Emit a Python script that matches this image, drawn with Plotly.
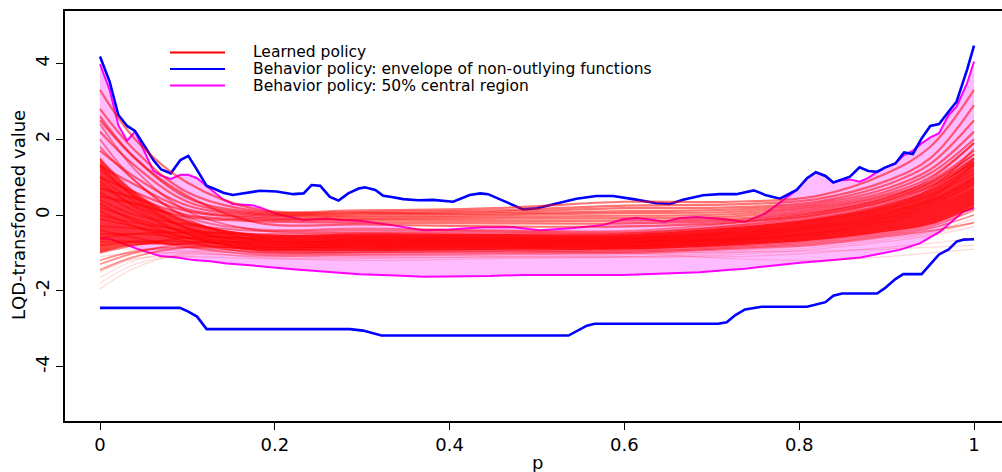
import plotly.graph_objects as go

# ---------------- data ----------------
# Behavior policy: envelope of non-outlying functions (upper border)
BU_P = [0, 0.011, 0.021, 0.031, 0.04, 0.05, 0.061, 0.07, 0.081, 0.092, 0.101, 0.11, 0.122, 0.13,
        0.141, 0.152, 0.164, 0.183, 0.202, 0.221, 0.233, 0.242, 0.252, 0.263, 0.273, 0.284, 0.296,
        0.303, 0.315, 0.324, 0.332, 0.347, 0.364, 0.381, 0.404, 0.423, 0.435, 0.444, 0.461, 0.484,
        0.5, 0.523, 0.545, 0.568, 0.587, 0.61, 0.637, 0.652, 0.667, 0.69, 0.709, 0.728, 0.748, 0.761,
        0.778, 0.797, 0.809, 0.819, 0.83, 0.839, 0.849, 0.858, 0.869, 0.879, 0.889, 0.898, 0.91,
        0.92, 0.93, 0.94, 0.95, 0.96, 0.971, 0.98, 0.992, 1.0]
BU_V = [4.18, 3.52, 2.64, 2.35, 2.22, 1.85, 1.45, 1.2, 1.1, 1.45, 1.56, 1.23, 0.77, 0.7, 0.59,
        0.53, 0.57, 0.64, 0.62, 0.55, 0.57, 0.79, 0.77, 0.48, 0.38, 0.57, 0.7, 0.73, 0.66, 0.51,
        0.48, 0.42, 0.39, 0.40, 0.35, 0.53, 0.57, 0.55, 0.38, 0.15, 0.18, 0.31, 0.43, 0.50, 0.50,
        0.42, 0.31, 0.29, 0.40, 0.52, 0.55, 0.55, 0.65, 0.53, 0.43, 0.66, 0.97, 1.13, 1.03, 0.86,
        0.94, 1.01, 1.26, 1.16, 1.14, 1.25, 1.36, 1.65, 1.61, 2.02, 2.35, 2.40, 2.73, 2.99, 3.83, 4.47]

# envelope lower border
BL_P = [0, 0.0915, 0.101, 0.111, 0.122, 0.286, 0.301, 0.322, 0.536, 0.549, 0.557, 0.566, 0.707,
        0.717, 0.727, 0.738, 0.748, 0.757, 0.809, 0.818, 0.83, 0.839, 0.849, 0.889, 0.898, 0.91,
        0.919, 0.94, 0.95, 0.96, 0.971, 0.98, 0.988, 1.0]
BL_V = [-2.45, -2.45, -2.55, -2.68, -3.01, -3.01, -3.05, -3.18, -3.18, -3.03, -2.92, -2.87, -2.87,
        -2.83, -2.64, -2.49, -2.46, -2.42, -2.42, -2.37, -2.30, -2.13, -2.07, -2.07, -1.93, -1.69,
        -1.56, -1.56, -1.30, -1.04, -0.91, -0.70, -0.65, -0.64]

# Behavior policy: 50% central region (upper border)
MU_P = [0, 0.011, 0.021, 0.031, 0.04, 0.05, 0.061, 0.07, 0.081, 0.092, 0.101, 0.111, 0.122, 0.132,
        0.141, 0.152, 0.174, 0.183, 0.193, 0.202, 0.233, 0.259, 0.278, 0.297, 0.332, 0.37, 0.40,
        0.439, 0.473, 0.503, 0.542, 0.576, 0.599, 0.614, 0.633, 0.646, 0.664, 0.683, 0.709, 0.738,
        0.761, 0.786, 0.797, 0.809, 0.819, 0.83, 0.839, 0.849, 0.858, 0.869, 0.879, 0.889, 0.898,
        0.91, 0.92, 0.93, 0.94, 0.95, 0.96, 0.971, 0.98, 0.992, 1.0]
MU_V = [3.98, 3.30, 2.37, 1.96, 2.20, 1.71, 1.17, 1.04, 0.95, 1.06, 1.06, 0.97, 0.77, 0.57, 0.41,
        0.29, 0.26, 0.20, 0.11, 0.03, -0.13, -0.09, -0.13, -0.15, -0.26, -0.40, -0.38, -0.32,
        -0.32, -0.40, -0.34, -0.26, -0.11, -0.08, -0.13, -0.18, -0.08, -0.05, -0.10, -0.18, 0.04,
        0.47, 0.66, 0.97, 1.13, 1.03, 0.86, 0.92, 0.94, 0.88, 0.98, 1.14, 1.25, 1.36, 1.58, 1.70,
        1.89, 2.05, 2.16, 2.64, 2.86, 3.47, 4.05]

# 50% central region (lower border)
ML_P = [0, 0.011, 0.046, 0.069, 0.088, 0.107, 0.126, 0.145, 0.168, 0.191, 0.221, 0.259, 0.297,
        0.332, 0.37, 0.446, 0.484, 0.599, 0.656, 0.686, 0.717, 0.738, 0.763, 0.801, 0.839, 0.87,
        0.915, 0.938, 0.961, 0.988, 1.0]
ML_V = [-0.62, -0.63, -0.92, -1.08, -1.12, -1.19, -1.22, -1.28, -1.32, -1.36, -1.43, -1.50, -1.56,
        -1.59, -1.63, -1.61, -1.58, -1.58, -1.54, -1.51, -1.45, -1.42, -1.35, -1.26, -1.19, -1.12,
        -0.92, -0.75, -0.44, 0.09, 0.18]

# Learned policy functions: values at these p positions
LEARNED_P = [0, 0.04, 0.1, 0.18, 0.3, 0.45, 0.6, 0.72, 0.82, 0.9, 0.95, 1.0]

LEARNED_UPPER = [
    [3.3, 2.0, 0.85, 0.15, 0.12, 0.18, 0.35, 0.35, 0.5, 1.1, 1.8, 3.3],
    [2.8, 1.7, 0.6, 0.10, 0.08, 0.12, 0.25, 0.28, 0.42, 0.9, 1.5, 2.9],
    [2.5, 1.5, 0.45, 0.06, 0.05, 0.08, 0.18, 0.2, 0.35, 0.8, 1.35, 2.5],
    [2.2, 1.3, 0.35, 0.03, 0.02, 0.04, 0.10, 0.14, 0.3, 0.7, 1.2, 2.2],
    [1.7, 1.0, 0.25, 0.0, -0.02, 0.0, 0.05, 0.08, 0.25, 0.62, 1.1, 2.0],
    [1.3, 0.8, 0.15, -0.04, -0.06, -0.05, -0.02, 0.02, 0.2, 0.55, 1.0, 1.9],
    [1.0, 0.6, 0.1, -0.08, -0.10, -0.1, -0.08, -0.04, 0.15, 0.5, 0.9, 1.7],
    [0.7, 0.45, 0.0, -0.12, -0.14, -0.16, -0.15, -0.1, 0.1, 0.45, 0.85, 1.6],
    [0.5, 0.3, -0.05, -0.16, -0.2, -0.22, -0.22, -0.15, 0.06, 0.4, 0.8, 1.5],
    [2.6, 1.5, 0.5, -0.2, -0.25, -0.3, -0.3, -0.2, 0.0, 0.35, 0.75, 1.4],
]

LEARNED_CORE = [
    [1.8, 0.9, -0.05, -0.38, -0.35, -0.40, -0.42, -0.22, 0.05, 0.45, 0.95, 1.9],
    [0.4, 0.0, -0.25, -0.42, -0.40, -0.43, -0.46, -0.28, 0.0, 0.38, 0.85, 1.6],
    [2.4, 1.2, 0.1, -0.40, -0.45, -0.46, -0.48, -0.30, -0.05, 0.30, 0.75, 1.5],
    [-0.6, -0.5, -0.45, -0.50, -0.48, -0.50, -0.50, -0.33, -0.08, 0.28, 0.70, 1.75],
    [1.2, 0.5, -0.2, -0.52, -0.52, -0.53, -0.54, -0.36, -0.12, 0.22, 0.62, 1.3],
    [0.0, -0.2, -0.4, -0.55, -0.55, -0.56, -0.57, -0.40, -0.15, 0.18, 0.55, 1.2],
    [1.5, 0.6, -0.15, -0.58, -0.58, -0.59, -0.59, -0.43, -0.18, 0.15, 0.5, 1.1],
    [-1.0, -0.8, -0.6, -0.60, -0.60, -0.61, -0.61, -0.45, -0.22, 0.10, 0.45, 1.35],
    [0.8, 0.25, -0.35, -0.63, -0.63, -0.63, -0.63, -0.48, -0.25, 0.06, 0.40, 1.0],
    [-0.3, -0.35, -0.5, -0.65, -0.65, -0.65, -0.65, -0.50, -0.28, 0.03, 0.36, 0.95],
    [2.0, 0.9, -0.1, -0.67, -0.67, -0.67, -0.67, -0.52, -0.30, 0.0, 0.33, 0.9],
    [0.2, -0.1, -0.45, -0.69, -0.69, -0.69, -0.69, -0.55, -0.33, -0.04, 0.28, 0.85],
    [-1.3, -1.0, -0.75, -0.71, -0.71, -0.70, -0.70, -0.57, -0.36, -0.07, 0.25, 0.8],
    [1.0, 0.35, -0.35, -0.73, -0.73, -0.72, -0.72, -0.60, -0.38, -0.10, 0.2, 0.7],
    [-0.5, -0.5, -0.6, -0.75, -0.75, -0.74, -0.74, -0.62, -0.42, -0.14, 0.15, 0.65],
    [0.6, 0.1, -0.5, -0.78, -0.77, -0.76, -0.76, -0.64, -0.45, -0.17, 0.1, 0.6],
    [-0.8, -0.7, -0.7, -0.80, -0.79, -0.78, -0.78, -0.66, -0.48, -0.2, 0.05, 0.55],
    [1.3, 0.45, -0.35, -0.82, -0.81, -0.80, -0.80, -0.68, -0.50, -0.24, 0.0, 0.5],
    [-0.1, -0.3, -0.6, -0.84, -0.83, -0.82, -0.82, -0.70, -0.53, -0.28, -0.05, 0.45],
    [-1.45, -1.1, -0.85, -0.86, -0.85, -0.84, -0.84, -0.73, -0.56, -0.32, -0.1, 0.4],
    [0.3, -0.15, -0.6, -0.88, -0.88, -0.86, -0.86, -0.75, -0.6, -0.36, -0.15, 0.35],
    [-0.7, -0.7, -0.8, -0.91, -0.91, -0.89, -0.88, -0.78, -0.63, -0.40, -0.2, 0.3],
    [0.9, 0.2, -0.5, -0.94, -0.95, -0.92, -0.91, -0.81, -0.66, -0.44, -0.25, 0.2],
    [-1.2, -0.95, -0.85, -0.97, -0.98, -0.95, -0.94, -0.84, -0.70, -0.48, -0.3, 0.13],
    [0.1, -0.3, -0.7, -1.0, -1.0, -0.97, -0.97, -0.87, -0.74, -0.52, -0.35, 0.0],
    [-0.4, -0.6, -0.85, -1.05, -1.05, -1.02, -1.0, -0.9, -0.78, -0.56, -0.42, -0.2],
]

LEARNED_LOW = [
    [-1.95, -1.4, -1.0, -1.0, -1.05, -1.08, -1.1, -1.1, -1.0, -0.85, -0.75, -0.6],
    [-1.8, -1.3, -1.05, -1.1, -1.12, -1.12, -1.12, -1.05, -0.9, -0.7, -0.55, -0.3],
    [-1.65, -1.2, -0.95, -0.95, -1.0, -1.0, -1.0, -1.15, -1.2, -1.1, -1.0, -0.9],
    [-1.5, -1.15, -1.1, -1.15, -1.15, -1.1, -1.05, -0.95, -0.8, -0.6, -0.45, -0.1],
    [-1.1, -1.0, -1.0, -1.08, -1.1, -1.05, -1.02, -0.98, -0.95, -0.9, -0.85, -0.8],
    [-0.9, -0.9, -0.95, -1.12, -1.2, -1.15, -1.1, -1.0, -0.85, -0.65, -0.5, -0.2],
]

X_TICKS = [0, 0.2, 0.4, 0.6, 0.8, 1]
X_TICKTEXT = ["0", "0.2", "0.4", "0.6", "0.8", "1"]
Y_TICKS = [-4, -2, 0, 2, 4]
Y_TICKTEXT = ["-4", "-2", "0", "2", "4"]

LEGEND_LABELS = ["Learned policy",
                 "Behavior policy: envelope of non-outlying functions",
                 "Behavior policy: 50% central region"]
LEGEND_COLORS = ["#ff0000", "#0000ff", "#ff00ff"]

# ---------------- figure ----------------
W, H = 1002, 472
ML, MR, MT, MB = 65, 0, 11, 51
FONT = "DejaVu Sans"

fig = go.Figure()

# pink 50% central region
fig.add_trace(go.Scatter(
    x=MU_P + ML_P[::-1], y=MU_V + ML_V[::-1], mode="lines", fill="toself",
    fillcolor="#ffbbff", line=dict(width=0), hoverinfo="skip"))

# borders
fig.add_trace(go.Scatter(x=MU_P, y=MU_V, mode="lines", line=dict(color="#ff00ff", width=2)))
fig.add_trace(go.Scatter(x=ML_P, y=ML_V, mode="lines", line=dict(color="#ff00ff", width=2)))
fig.add_trace(go.Scatter(x=BU_P, y=BU_V, mode="lines", line=dict(color="#0000ff", width=2.6)))
fig.add_trace(go.Scatter(x=BL_P, y=BL_V, mode="lines", line=dict(color="#0000ff", width=2.6)))

# dense overlap of the learned-policy curves: band between the 4th highest and 4th lowest
cols = list(zip(*LEARNED_CORE))
dense_hi = [sorted(c, reverse=True)[3] for c in cols]
dense_lo = [sorted(c)[3] for c in cols]
fig.add_trace(go.Scatter(x=LEARNED_P, y=dense_lo, mode="lines",
                         line=dict(width=0, shape="spline", smoothing=1.0), hoverinfo="skip"))
fig.add_trace(go.Scatter(x=LEARNED_P, y=dense_hi, mode="lines", fill="tonexty",
                         fillcolor="rgba(255,0,0,0.75)",
                         line=dict(width=0, shape="spline", smoothing=1.0), hoverinfo="skip"))

# learned policy curves (semi-transparent red)
for rows, alpha, width in [(LEARNED_LOW, 0.16, 1.2),
                           (LEARNED_UPPER, 0.55, 2.2),
                           (LEARNED_CORE, 0.45, 1.8)]:
    for r in rows:
        fig.add_trace(go.Scatter(
            x=LEARNED_P, y=r, mode="lines",
            line=dict(color=f"rgba(255,0,0,{alpha})", width=width, shape="spline", smoothing=1.0),
            hoverinfo="skip"))

plot_w = W - ML - MR
plot_h = H - MT - MB


def px_x(px):
    return (px - ML) / plot_w


def px_y(py):
    return (H - MB - py) / plot_h


shapes = []
annotations = []
for i, (lab, col) in enumerate(zip(LEGEND_LABELS, LEGEND_COLORS)):
    yy = px_y(52.5 + 16.5 * i)
    shapes.append(dict(type="line", xref="paper", yref="paper", x0=px_x(170), x1=px_x(225),
                       y0=yy, y1=yy, line=dict(color=col, width=2)))
    annotations.append(dict(xref="paper", yref="paper", x=px_x(251), y=yy, text=lab,
                            showarrow=False, xanchor="left", yanchor="middle",
                            font=dict(family=FONT, size=15.5, color="black")))

# axis titles
annotations.append(dict(xref="paper", yref="paper", x=px_x(18), y=px_y(215),
                        text="LQD-transformed value", textangle=-90, showarrow=False,
                        xanchor="center", yanchor="middle",
                        font=dict(family=FONT, size=18, color="black")))
annotations.append(dict(xref="paper", yref="paper", x=px_x(537), y=px_y(462), text="p",
                        showarrow=False, xanchor="center", yanchor="middle",
                        font=dict(family=FONT, size=18, color="black")))

fig.update_layout(
    width=W, height=H, margin=dict(l=ML, r=MR, t=MT, b=MB, pad=0),
    paper_bgcolor="white", plot_bgcolor="white", showlegend=False,
    font=dict(family=FONT, size=18, color="black"),
    shapes=shapes, annotations=annotations,
    xaxis=dict(range=[-0.04005, 1.032], showgrid=False, zeroline=False,
               showline=True, mirror=True, linecolor="black", linewidth=1.5,
               ticks="outside", ticklen=7, tickwidth=1, tickcolor="black",
               tickvals=X_TICKS, ticktext=X_TICKTEXT, tickfont=dict(size=18)),
    yaxis=dict(range=[-5.435, 5.383], showgrid=False, zeroline=False,
               showline=True, mirror=False, linecolor="black", linewidth=1.5,
               ticks="outside", ticklen=7, tickwidth=1, tickcolor="black",
               tickvals=Y_TICKS, ticktext=Y_TICKTEXT, tickangle=-90, tickfont=dict(size=18)),
)

fig.write_html("out.html")
